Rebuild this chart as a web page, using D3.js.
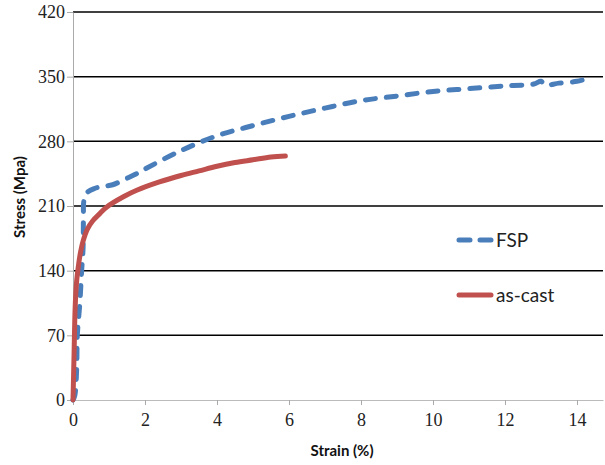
<!DOCTYPE html>
<html>
<head>
<meta charset="utf-8">
<script src="https://cdn.jsdelivr.net/npm/d3@7"></script>
<style>
  body { margin: 0; background: #fff; }
  svg { display: block; }
  .tick text { font-family: "Liberation Serif", "DejaVu Serif", serif; font-size: 18px; fill: #222; }
  .title { font-family: Lato, "Open Sans", sans-serif; font-weight: bold; font-size: 15px; fill: #111; }
  .legend text { font-family: Lato, "Open Sans", sans-serif; font-size: 19px; fill: #222; }
</style>
</head>
<body>
<svg width="605" height="465"></svg>
<script>
const yTicks = [0, 70, 140, 210, 280, 350, 420];
const xTicks = [0, 2, 4, 6, 8, 10, 12, 14];

// strain (%) vs stress (MPa)
const fspStrain = [0, 0.05, 0.1, 0.12, 0.19, 0.24, 0.28, 0.29, 0.3, 0.38, 0.6, 0.8, 1.1, 1.5, 1.77, 2, 3, 4, 5, 6, 7, 8, 9, 10, 11, 12, 12.8, 13, 13.1, 13.5, 14, 14.3];
const fspStress = [0, 5, 32, 70, 105, 140, 165, 200, 215, 224, 229, 231, 233, 240, 245, 250, 270, 286, 297, 307, 316, 324, 329, 334, 337, 340, 342, 345, 341, 343, 345, 348];

const castStrain = [0, 0.03, 0.06, 0.1, 0.15, 0.2, 0.28, 0.4, 0.55, 0.75, 0.94, 1.4, 1.77, 2.4, 3, 3.5, 4, 4.5, 5, 5.5, 5.9];
const castStress = [0, 50, 100, 128, 145, 158, 172, 185, 194, 202, 209, 220, 227, 236, 243, 248, 253, 257, 260, 263, 264];

const series = [
  { name: "FSP", color: "#4a7ebb", dash: "10,11", width: 5, x: fspStrain, y: fspStress, ly: 240 },
  { name: "as-cast", color: "#c0504d", dash: null, width: 5, x: castStrain, y: castStress, ly: 295 }
];

const svg = d3.select("svg");
const mLeft = 73, mRight = 603, mTop = 12, mBottom = 400;

const x = d3.scaleLinear().domain([0, (mRight - mLeft) / 36]).range([mLeft, mRight]);
const y = d3.scaleLinear().domain([0, 420]).range([mBottom, mTop]);

// gridlines
svg.append("g").selectAll("line").data(yTicks.filter(d => d > 0)).join("line")
  .attr("x1", mLeft).attr("x2", mRight)
  .attr("y1", d => y(d)).attr("y2", d => y(d))
  .attr("stroke", "#000").attr("stroke-width", 1.5);

const yAxis = svg.append("g").attr("transform", `translate(${mLeft},0)`)
  .call(d3.axisLeft(y).tickValues(yTicks).tickSize(6).tickPadding(2).tickSizeOuter(0));
yAxis.select(".domain").attr("stroke", "#aaa");
yAxis.selectAll(".tick line").attr("stroke", "#aaa");

const xAxis = svg.append("g").attr("transform", `translate(0,${mBottom})`)
  .call(d3.axisBottom(x).tickValues(xTicks).tickSize(5).tickPadding(8).tickSizeOuter(0));
xAxis.select(".domain").attr("stroke", "#bbb");
xAxis.selectAll(".tick line").attr("stroke", "#aaa");

series.forEach(s => {
  const pts = s.x.map((v, i) => [x(v), y(s.y[i])]);
  svg.append("path")
    .attr("d", d3.line().curve(d3.curveCatmullRom.alpha(0.5))(pts))
    .attr("fill", "none")
    .attr("stroke", s.color)
    .attr("stroke-width", s.width)
    .attr("stroke-linecap", "round")
    .attr("stroke-linejoin", "round")
    .attr("stroke-dasharray", s.dash);
});

// legend
const legend = svg.append("g").attr("class", "legend");
series.forEach(s => {
  legend.append("line")
    .attr("x1", 459).attr("x2", 491)
    .attr("y1", s.ly).attr("y2", s.ly)
    .attr("stroke", s.color).attr("stroke-width", s.width)
    .attr("stroke-linecap", "round")
    .attr("stroke-dasharray", s.dash ? "11,10" : null);
  legend.append("text")
    .attr("x", 496).attr("y", s.ly).attr("dy", "0.35em")
    .text(s.name);
});

svg.append("text").attr("class", "title")
  .attr("transform", "translate(25,197) rotate(-90)")
  .attr("text-anchor", "middle")
  .text("Stress (Mpa)");

svg.append("text").attr("class", "title")
  .attr("x", 342).attr("y", 456)
  .attr("text-anchor", "middle")
  .text("Strain (%)");
</script>
</body>
</html>
